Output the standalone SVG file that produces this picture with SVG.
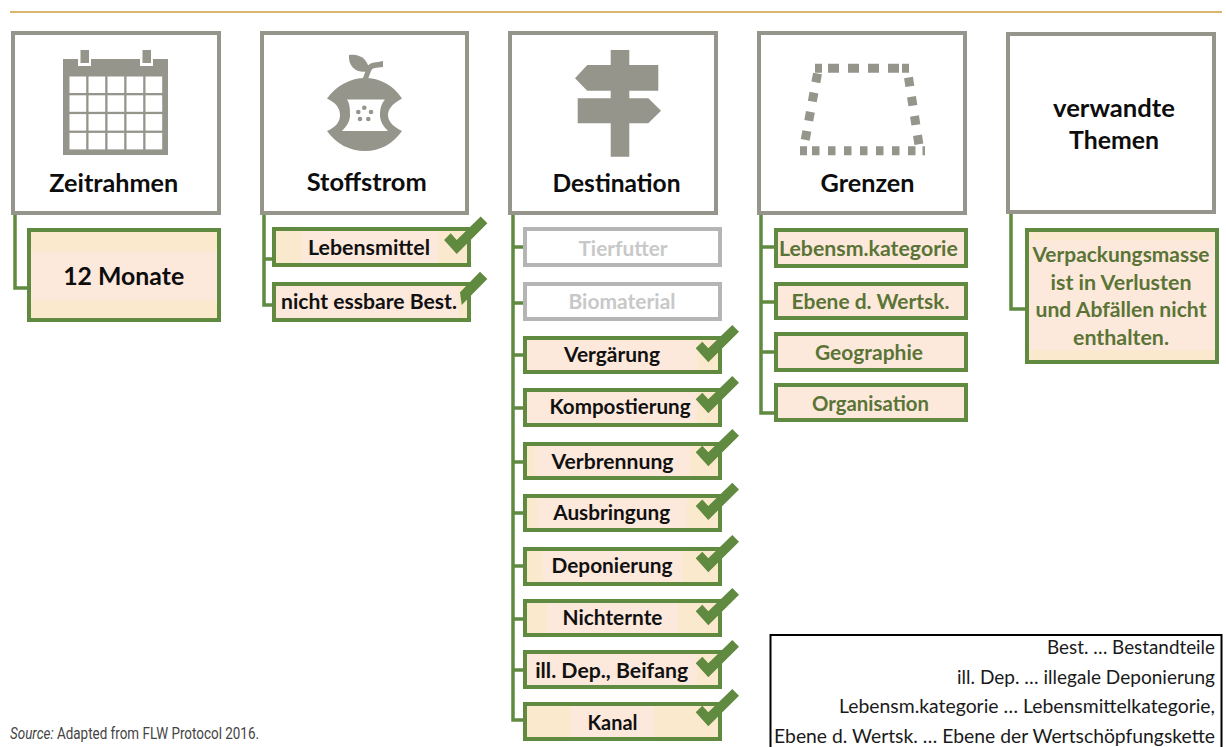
<svg xmlns="http://www.w3.org/2000/svg" width="1226" height="747" viewBox="0 0 1226 747">
<style>
text{font-family:Lato,"Open Sans","Liberation Sans",sans-serif;font-weight:700;text-anchor:middle;transform:translateY(.8px)}
.head{fill:#fff;stroke:#95958b;stroke-width:4}
.item{fill:#fbe9cd;stroke:#5f8a3f;stroke-width:4}
.off{fill:#fff;stroke:#b5b5b5;stroke-width:4}
.in{fill:#fde9dc}
.ic{fill:#95958b}
.t1{font-size:24px;fill:#0d0d0d}
.t2{font-size:20px;fill:#111}
.t3{font-size:20px;fill:#c8c8c8}
.t4{font-size:20px;fill:#5a7436}
.leg{font-size:18.5px;font-weight:400;fill:#1a1a1a;text-anchor:end}
.src{font-family:Roboto,"Liberation Sans",sans-serif;font-size:17px;font-weight:400;fill:#444;text-anchor:start}
.chk{fill:#5f8a3f}
.con{fill:none;stroke:#5f8a3f;stroke-width:3.5}
.dash{fill:none;stroke:#95958b;stroke-width:9}
</style>
<defs>
<polygon id="chk" class="chk" points="695.7,348.3 708.3,362.3 739,331.7 732.3,325 708.3,348.3 702.3,341.7"/>
</defs>
<line x1="10" y1="12" x2="1222" y2="12" stroke="#d29b3a" stroke-width="1.6"/>
<g id="connectors">
<path class="con" d="M15,214V288H28"/>
<path class="con" d="M264,214V305H273M264,259H273"/>
<path class="con" d="M513,214V720H524M513,247H524M513,303H524M513,355H524M513,408H524M513,462H524M513,513H524M513,566H524M513,619H524M513,670H524"/>
<path class="con" d="M761,214V413H775M761,247H775M761,302H775M761,352H775"/>
<path class="con" d="M1011,214V309H1026"/>
</g>
<g id="zeitrahmen">
<rect class="head" x="13" y="33" width="206" height="180"/>
<rect class="ic" x="63" y="59" width="105" height="96"/>
<rect x="78" y="48" width="13" height="18" fill="#fff"/><rect x="140" y="48" width="13" height="18" fill="#fff"/>
<rect class="ic" x="80.500" y="50" width="8.500" height="13"/><rect class="ic" x="142.500" y="50" width="8.500" height="13"/>
<g fill="#fff">
<rect x="69.500" y="76.500" width="16.700" height="16.500"/><rect x="88.500" y="76.500" width="16.700" height="16.500"/><rect x="107.500" y="76.500" width="16.700" height="16.500"/><rect x="126.500" y="76.500" width="16.700" height="16.500"/><rect x="145.500" y="76.500" width="16.700" height="16.500"/>
<rect x="69.500" y="95.300" width="16.700" height="16.500"/><rect x="88.500" y="95.300" width="16.700" height="16.500"/><rect x="107.500" y="95.300" width="16.700" height="16.500"/><rect x="126.500" y="95.300" width="16.700" height="16.500"/><rect x="145.500" y="95.300" width="16.700" height="16.500"/>
<rect x="69.500" y="114.100" width="16.700" height="16.500"/><rect x="88.500" y="114.100" width="16.700" height="16.500"/><rect x="107.500" y="114.100" width="16.700" height="16.500"/><rect x="126.500" y="114.100" width="16.700" height="16.500"/><rect x="145.500" y="114.100" width="16.700" height="16.500"/>
<rect x="69.500" y="132.900" width="16.700" height="16.500"/><rect x="88.500" y="132.900" width="16.700" height="16.500"/><rect x="107.500" y="132.900" width="16.700" height="16.500"/><rect x="126.500" y="132.900" width="16.700" height="16.500"/><rect x="145.500" y="132.900" width="16.700" height="16.500"/>
</g>
<text class="t1" x="113.800" y="191.700" textLength="129" lengthAdjust="spacingAndGlyphs">Zeitrahmen</text>
</g>
<g id="monate">
<rect class="item" x="29" y="230" width="190" height="90"/>
<rect class="in" x="31" y="252" width="186" height="48"/>
<text class="t1" x="123.700" y="284.300" textLength="121" lengthAdjust="spacingAndGlyphs">12 Monate</text>
</g>
<g id="stoffstrom">
<rect class="head" x="262" y="33" width="205" height="180"/>
<path class="ic" d="M327,98.500C337,85 351,78 365,78C380,78 393,85 402,98.500C394,103 388,108 388,115C388,122 394,127 402,131C393,144 380,151 365,151C350,151 336,144 327,131C336,127 340,122 340,115C340,108 336,103 327,98.500Z"/>
<path fill="#fff" d="M347,99.500H385C381,104 380,110 380,115C380,121 383,126 388,131H342C347,126 350,121 350,115C350,110 350,104 347,99.500Z"/>
<g class="ic"><circle cx="364.300" cy="107.700" r="2.300"/><circle cx="358.300" cy="112" r="2.300"/><circle cx="371" cy="112" r="2.300"/><circle cx="360" cy="119" r="2.300"/><circle cx="368.300" cy="119" r="2.300"/></g>
<path class="ic" d="M349,55C360,53 369,60 369,71C358,74 348,68 349,55Z"/>
<path class="ic" d="M362.500,79C365,74 365,71 367,67C371,61 376,63 383,61L383,67C376,68 373,67 371,71C370,74 369,76 368,79Z"/>
<text class="t1" x="366.700" y="190" textLength="120" lengthAdjust="spacingAndGlyphs">Stoffstrom</text>
</g>
<g id="lebensmittel">
<rect class="item" x="274" y="229" width="195" height="36"/>
<rect class="in" x="302" y="231" width="136" height="32"/>
<text class="t2" x="369" y="254.300" textLength="122" lengthAdjust="spacingAndGlyphs">Lebensmittel</text>
<use href="#chk" transform="translate(-251.600 -108.400)"/>
</g>
<g id="essbar">
<rect class="item" x="274" y="284" width="195" height="36"/>
<rect class="in" x="276" y="286" width="182" height="32"/>
<text class="t2" x="369" y="308.300" textLength="176" lengthAdjust="spacingAndGlyphs">nicht essbare Best.</text>
<polygon class="chk" points="487.300,279 480,271.700 460,292.300 461.700,305"/>
</g>
<g id="destination">
<rect class="head" x="510" y="33" width="206" height="180"/>
<path class="ic" d="M610.700,50H629.300V65H658.300V90.700H629.300V98.300H648.300L661,110.700L648.300,123.300H629.300V156.700H610.700V123.300H577.700V98.300H610.700V90.700H587.300L575,78.300L587.300,65H610.700Z"/>
<text class="t1" x="616.500" y="191.700" textLength="128" lengthAdjust="spacingAndGlyphs">Destination</text>
</g>
<g id="tierfutter">
<rect class="off" x="525" y="229" width="195" height="36"/>
<text class="t3" x="623" y="255" textLength="89" lengthAdjust="spacingAndGlyphs">Tierfutter</text>
</g>
<g id="biomaterial">
<rect class="off" x="525" y="284" width="195" height="35"/>
<text class="t3" x="622" y="308" textLength="107" lengthAdjust="spacingAndGlyphs">Biomaterial</text>
</g>
<g id="vergaerung">
<rect class="item" x="525" y="338" width="195" height="34"/>
<rect class="in" x="527" y="340" width="170" height="30"/>
<text class="t2" x="612" y="361.700" textLength="96" lengthAdjust="spacingAndGlyphs">Vergärung</text>
<use href="#chk"/>
</g>
<g id="kompostierung">
<rect class="item" x="525" y="390" width="195" height="35"/>
<rect class="in" x="527" y="392" width="170" height="31"/>
<text class="t2" x="620" y="413.300" textLength="141" lengthAdjust="spacingAndGlyphs">Kompostierung</text>
<use href="#chk" transform="translate(0 51)"/>
</g>
<g id="verbrennung">
<rect class="item" x="525" y="444" width="195" height="34"/>
<rect class="in" x="535" y="446" width="155" height="30"/>
<text class="t2" x="612.500" y="468" textLength="122" lengthAdjust="spacingAndGlyphs">Verbrennung</text>
<use href="#chk" transform="translate(0 104)"/>
</g>
<g id="ausbringung">
<rect class="item" x="525" y="496" width="195" height="34"/>
<rect class="in" x="537" y="498" width="150" height="30"/>
<text class="t2" x="611.700" y="519.300" textLength="117" lengthAdjust="spacingAndGlyphs">Ausbringung</text>
<use href="#chk" transform="translate(0 157.700)"/>
</g>
<g id="deponierung">
<rect class="item" x="525" y="549" width="195" height="35"/>
<rect class="in" x="543" y="551" width="139" height="31"/>
<text class="t2" x="612" y="572.300" textLength="121" lengthAdjust="spacingAndGlyphs">Deponierung</text>
<use href="#chk" transform="translate(0 210)"/>
</g>
<g id="nichternte">
<rect class="item" x="525" y="601" width="195" height="34"/>
<rect class="in" x="547" y="603" width="131" height="30"/>
<text class="t2" x="612.500" y="624" textLength="100" lengthAdjust="spacingAndGlyphs">Nichternte</text>
<use href="#chk" transform="translate(0 263)"/>
</g>
<g id="illdep">
<rect class="item" x="525" y="652" width="195" height="35"/>
<rect class="in" x="527" y="654" width="170" height="31"/>
<text class="t2" x="611.700" y="677.300" textLength="153" lengthAdjust="spacingAndGlyphs">ill. Dep., Beifang</text>
<use href="#chk" transform="translate(0 315)"/>
</g>
<g id="kanal">
<rect class="item" x="525" y="704" width="195" height="35"/>
<rect class="in" x="571" y="706" width="83" height="31"/>
<text class="t2" x="612.500" y="729" textLength="50" lengthAdjust="spacingAndGlyphs">Kanal</text>
<use href="#chk" transform="translate(0 364)"/>
</g>
<g id="grenzen">
<rect class="head" x="759" y="33" width="206" height="180"/>
<g class="dash">
<path stroke-dasharray="7 6 11 9 11 9 11 9 11 3 7" d="M815,68.300H909"/>
<path stroke-dasharray="7 5 7.500 8.500 7.500 8.500 7.500 8.500 7.500 8.500 7.500 8.500 7.500 8.500 7.500 7 7" d="M800,150.700H925"/>
<path stroke-dasharray="9 10.500" d="M817.500,73.500L805,141"/>
<path stroke-dasharray="9 10.500" d="M908.500,77.500L919,145"/>
</g>
<text class="t1" x="867.500" y="191.700" textLength="94" lengthAdjust="spacingAndGlyphs">Grenzen</text>
</g>
<g id="kategorie">
<rect class="item" x="776" y="230" width="190" height="36"/>
<rect class="in" x="778" y="232" width="186" height="32"/>
<text class="t4" x="868.400" y="255" textLength="179" lengthAdjust="spacingAndGlyphs">Lebensm.kategorie</text>
</g>
<g id="ebene">
<rect class="item" x="776" y="284" width="190" height="34"/>
<rect class="in" x="778" y="286" width="186" height="30"/>
<text class="t4" x="870.500" y="308.300" textLength="158" lengthAdjust="spacingAndGlyphs">Ebene d. Wertsk.</text>
</g>
<g id="geographie">
<rect class="item" x="776" y="334" width="190" height="36"/>
<rect class="in" x="778" y="336" width="186" height="32"/>
<text class="t4" x="869" y="359.300" textLength="108" lengthAdjust="spacingAndGlyphs">Geographie</text>
</g>
<g id="organisation">
<rect class="item" x="776" y="385" width="190" height="35"/>
<rect class="in" x="778" y="387" width="186" height="31"/>
<text class="t4" x="870.500" y="410" textLength="117" lengthAdjust="spacingAndGlyphs">Organisation</text>
</g>
<g id="themen">
<rect class="head" x="1008" y="34" width="206" height="178"/>
<text class="t1" x="1114" y="116" textLength="122" lengthAdjust="spacingAndGlyphs">verwandte</text>
<text class="t1" x="1114" y="148.300" textLength="90" lengthAdjust="spacingAndGlyphs">Themen</text>
</g>
<g id="verpackung">
<rect class="item" x="1027" y="230" width="190" height="132"/>
<rect class="in" x="1029" y="240" width="186" height="110"/>
<text class="t4" x="1121" y="261.700" textLength="177" lengthAdjust="spacingAndGlyphs">Verpackungsmasse</text>
<text class="t4" x="1121" y="289" textLength="141" lengthAdjust="spacingAndGlyphs">ist in Verlusten</text>
<text class="t4" x="1121" y="316.700" textLength="171" lengthAdjust="spacingAndGlyphs">und Abfällen nicht</text>
<text class="t4" x="1121" y="344.500" textLength="96" lengthAdjust="spacingAndGlyphs">enthalten.</text>
</g>
<g id="legende">
<rect x="770.500" y="635" width="451" height="120" fill="#fff" stroke="#000" stroke-width="2"/>
<text class="leg" x="1215" y="653.300" textLength="168" lengthAdjust="spacingAndGlyphs">Best. … Bestandteile</text>
<text class="leg" x="1215" y="683.300" textLength="258" lengthAdjust="spacingAndGlyphs">ill. Dep. … illegale Deponierung</text>
<text class="leg" x="1215" y="712.700" textLength="376" lengthAdjust="spacingAndGlyphs">Lebensm.kategorie … Lebensmittelkategorie,</text>
<text class="leg" x="1215" y="742.300" textLength="441" lengthAdjust="spacingAndGlyphs">Ebene d. Wertsk. … Ebene der Wertschöpfungskette</text>
</g>
<text class="src" x="10" y="738" textLength="249" lengthAdjust="spacingAndGlyphs"><tspan font-style="italic">Source:</tspan> Adapted from FLW Protocol 2016.</text>
</svg>
